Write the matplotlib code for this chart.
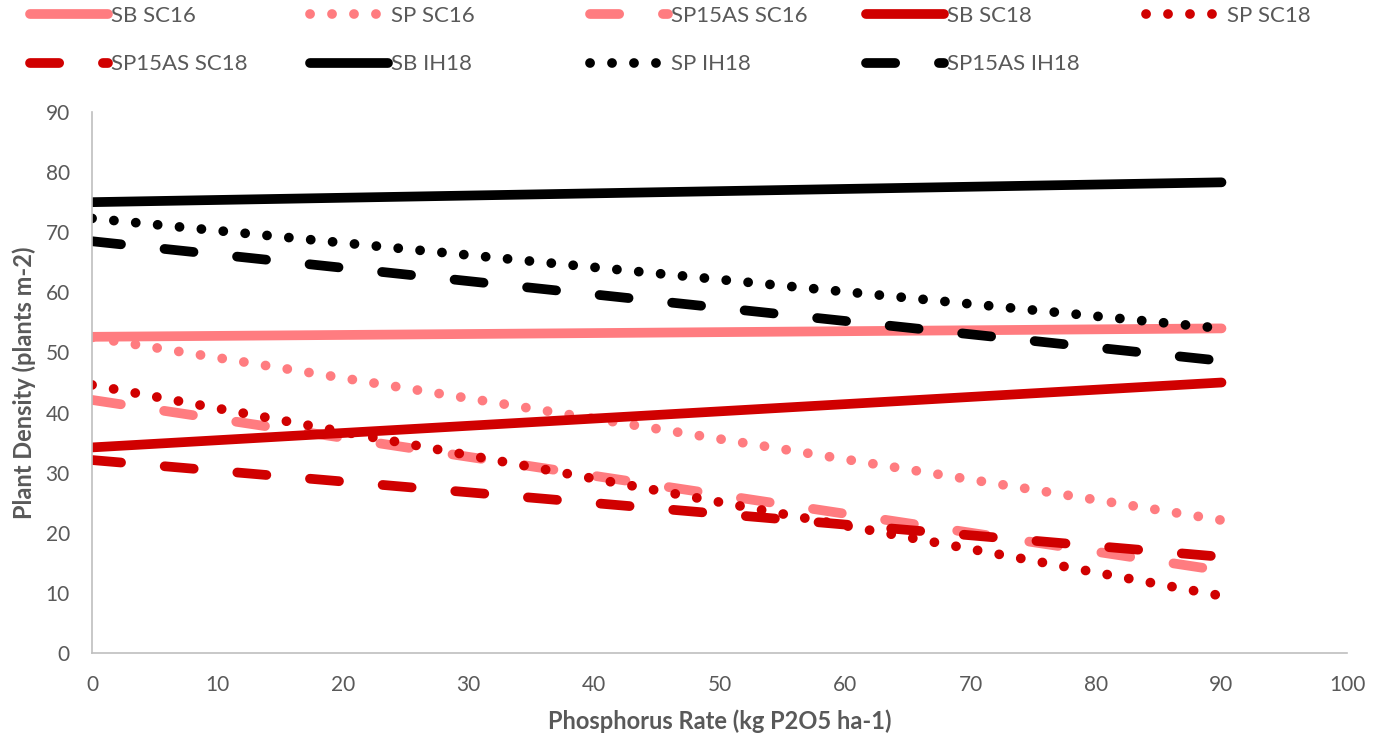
import matplotlib
matplotlib.use("Agg")
import matplotlib.pyplot as plt

plt.rcParams['font.family'] = ['Lato', 'DejaVu Sans']

# rates where the trendlines start and end
rates = [0, 90]

names = ["SB SC16", "SP SC16", "SP15AS SC16", "SB SC18", "SP SC18",
         "SP15AS SC18", "SB IH18", "SP IH18", "SP15AS IH18"]
sb_sc16 = [52.6, 54.0]
sp_sc16 = [52.5, 22.1]
sp15as_sc16 = [42.1, 13.7]
sb_sc18 = [34.2, 45.0]
sp_sc18 = [44.6, 9.5]
sp15as_sc18 = [32.1, 16.0]
sb_ih18 = [75.0, 78.3]
sp_ih18 = [72.3, 54.0]
sp15as_ih18 = [68.5, 48.6]

series = [sb_sc16, sp_sc16, sp15as_sc16, sb_sc18, sp_sc18,
          sp15as_sc18, sb_ih18, sp_ih18, sp15as_ih18]

SALMON = '#FF7C80'
RED = '#D00000'
BLACK = '#000000'
colors = [SALMON] * 3 + [RED] * 3 + [BLACK] * 3

lw = 7.0
solid = '-'
dotted = (0, (0.01, 2.25))
dashed = (0, (3.0, 4.5))
styles = [solid, dotted, dashed] * 3

W, H = 1380, 738
fig = plt.figure(figsize=(W / 100, H / 100), dpi=100)
ax = fig.add_axes([92 / W, 1 - 653 / H, 1255 / W, 541 / H])

lines = []
for name, vals, c, ls in zip(names, series, colors, styles):
    ln, = ax.plot(rates, vals, color=c, linestyle=ls, linewidth=lw,
                  solid_capstyle='round', dash_capstyle='round', label=name)
    lines.append(ln)

ax.set_xlim(0, 100)
ax.set_ylim(0, 90)
ax.set_xticks(range(0, 101, 10))
ax.set_yticks(range(0, 91, 10))

grey = '#595959'
for s in ['top', 'right']:
    ax.spines[s].set_visible(False)
for s in ['left', 'bottom']:
    ax.spines[s].set_color('#BFBFBF')
    ax.spines[s].set_linewidth(1.2)
ax.tick_params(length=0, labelsize=15, colors=grey)
ax.tick_params(axis='x', pad=16)
ax.tick_params(axis='y', pad=16)

ax.set_xlabel("Phosphorus Rate (kg P2O5 ha-1)", fontsize=17,
              fontweight='bold', color=grey, labelpad=10)
ax.set_ylabel("Plant Density (plants m-2)", fontsize=17,
              fontweight='bold', color=grey, labelpad=7)

# legend: five evenly spaced columns, filled row by row
col_x = [30, 310, 590, 866, 1146]
for j, x in enumerate(col_x):
    idx = [j, j + 5] if j + 5 < len(lines) else [j]
    leg = fig.legend([lines[i] for i in idx], [names[i] for i in idx],
                     loc='upper left', bbox_to_anchor=(x / W, 1 - 6 / H),
                     frameon=False, fontsize=16, handlelength=3.5,
                     handletextpad=0.15, labelspacing=1.28,
                     borderpad=0, borderaxespad=0)
    for t in leg.get_texts():
        t.set_color(grey)

fig.savefig("out.png", dpi=100)
